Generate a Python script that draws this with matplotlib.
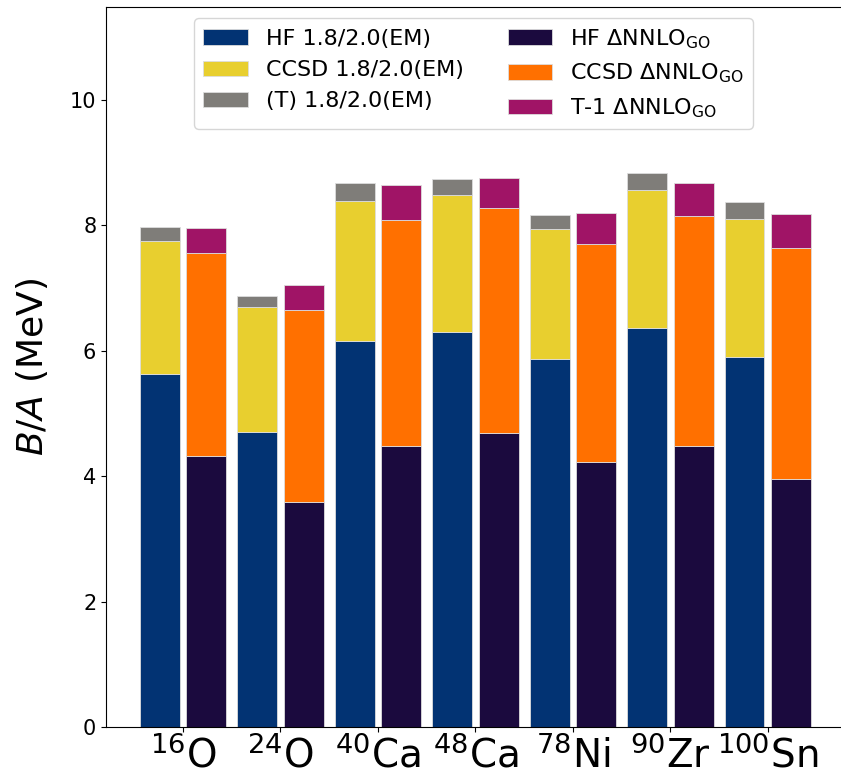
import matplotlib
matplotlib.use("Agg")
import matplotlib.pyplot as plt
import numpy as np

nuclei = ["$^{16}$O", "$^{24}$O", "$^{40}$Ca", "$^{48}$Ca", "$^{78}$Ni", "$^{90}$Zr", "$^{100}$Sn"]

hf_em = [5.63, 4.71, 6.15, 6.30, 5.87, 6.36, 5.90]
ccsd_em = [2.12, 1.98, 2.24, 2.19, 2.07, 2.21, 2.20]
t_em = [0.23, 0.19, 0.29, 0.24, 0.23, 0.27, 0.27]

hf_go = [4.32, 3.59, 4.48, 4.69, 4.23, 4.48, 3.96]
ccsd_go = [3.24, 3.06, 3.60, 3.59, 3.47, 3.66, 3.68]
t_go = [0.40, 0.39, 0.56, 0.48, 0.50, 0.54, 0.54]

labels_em = ["HF 1.8/2.0(EM)", "CCSD 1.8/2.0(EM)", "(T) 1.8/2.0(EM)"]
labels_go = [r"HF $\Delta$NNLO$_{\rm GO}$", r"CCSD $\Delta$NNLO$_{\rm GO}$", r"T-1 $\Delta$NNLO$_{\rm GO}$"]

colors_em = ["#023373", "#e8cf2f", "#7f7d79"]
colors_go = ["#1b0a3e", "#ff7000", "#a01466"]

fig = plt.figure(figsize=(8.41, 7.77), dpi=100)
ax = fig.add_axes([106/841, 1-727/777, 1-106/841, (727-7)/777])

x = np.arange(len(nuclei))
w = 0.41
off = 0.24
ec = "#dddddd"
lw = 0.6

hf_em_a = np.array(hf_em); ccsd_em_a = np.array(ccsd_em); t_em_a = np.array(t_em)
hf_go_a = np.array(hf_go); ccsd_go_a = np.array(ccsd_go); t_go_a = np.array(t_go)

ax.bar(x - off, hf_em_a, w, color=colors_em[0], label=labels_em[0], edgecolor=ec, linewidth=lw)
ax.bar(x - off, ccsd_em_a, w, bottom=hf_em_a, color=colors_em[1], label=labels_em[1], edgecolor=ec, linewidth=lw)
ax.bar(x - off, t_em_a, w, bottom=hf_em_a + ccsd_em_a, color=colors_em[2], label=labels_em[2], edgecolor=ec, linewidth=lw)

ax.bar(x + off, hf_go_a, w, color=colors_go[0], label=labels_go[0], edgecolor=ec, linewidth=lw)
ax.bar(x + off, ccsd_go_a, w, bottom=hf_go_a, color=colors_go[1], label=labels_go[1], edgecolor=ec, linewidth=lw)
ax.bar(x + off, t_go_a, w, bottom=hf_go_a + ccsd_go_a, color=colors_go[2], label=labels_go[2], edgecolor=ec, linewidth=lw)

ax.set_xlim(-0.79, 6.75)
ax.set_ylim(0, 11.48)
ax.set_xticks(x)
ax.set_xticklabels(nuclei, fontsize=28)
ax.tick_params(axis="x", pad=3)
ax.set_yticks([0, 2, 4, 6, 8, 10])
ax.tick_params(axis="y", labelsize=15)
ax.set_ylabel(r"$B/A$ (MeV)", fontsize=26, labelpad=14)
ax.spines["right"].set_visible(False)

ax.legend(loc="upper center", ncol=2, fontsize=16)

fig.savefig("out.png", dpi=100)
